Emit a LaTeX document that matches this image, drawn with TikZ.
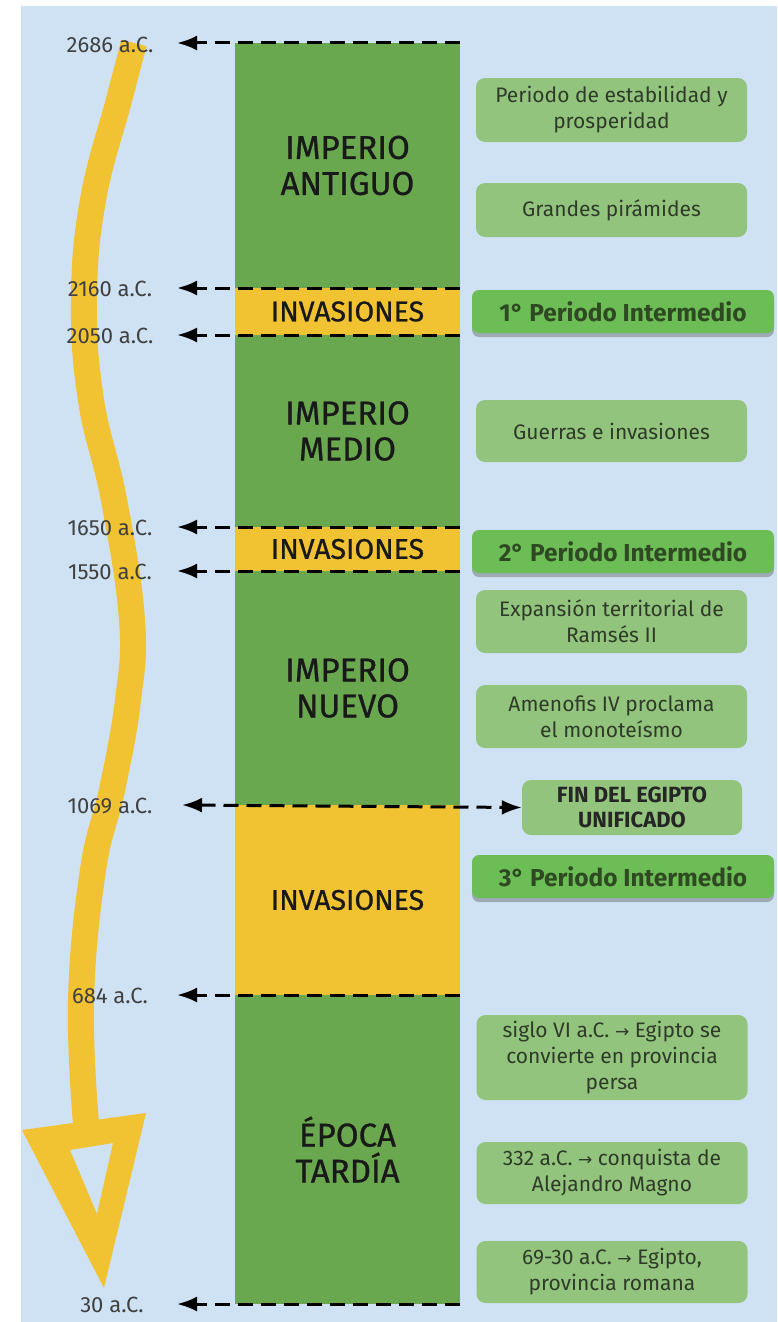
\documentclass[tikz,border=0pt]{standalone}
\usepackage{fontspec}
\setmainfont{Fira Sans}
\newfontfamily\dv{DejaVu Sans}
\newfontfamily\medf{Fira Sans}[FakeBold=0.8]
\usetikzlibrary{arrows.meta,shadows}
\definecolor{bgblue}{HTML}{CFE2F3}
\definecolor{colgreen}{HTML}{6AA84F}
\definecolor{colyellow}{HTML}{F1C232}
\definecolor{boxgreen}{HTML}{93C47D}
\definecolor{intgreen}{HTML}{6CBD55}
\definecolor{boxtext}{HTML}{2E3B28}
\definecolor{inttext}{HTML}{2F4A22}
\newcommand{\arr}{{\dv\fontsize{17pt}{17pt}\selectfont →}}
\tikzset{
  seg/.style={minimum width=225pt, inner sep=0pt, outer sep=0pt, anchor=north, text=black!90,
    align=center, font=\medf\fontsize{33pt}{36pt}\selectfont},
  invseg/.style={seg, fill=colyellow, font=\medf\fontsize{28.5pt}{30pt}\selectfont},
  empseg/.style={seg, fill=colgreen},
  datelbl/.style={text=black!75, font=\fontsize{22pt}{24pt}\selectfont, inner sep=0pt},
  dl/.style={line width=3pt, dash pattern=on 15pt off 8pt, -{Latex[length=20pt,width=15pt]}},
  dlb/.style={line width=3pt, dash pattern=on 15pt off 8pt, {Latex[length=20pt,width=15pt]}-{Latex[length=20pt,width=15pt]}},
  infobox/.style={fill=boxgreen, rounded corners=9pt, minimum width=271pt, align=center,
    text=boxtext, inner sep=0pt, font=\fontsize{21pt}{26pt}\selectfont},
  intbox/.style={fill=intgreen, rounded corners=7pt, minimum width=302pt, minimum height=43pt,
    text=inttext, inner sep=0pt, font=\bfseries\fontsize{24.5pt}{26pt}\selectfont,
    drop shadow={shadow xshift=0pt, shadow yshift=-4pt, opacity=0.45, fill=black!60}},
}
\begin{document}
\begin{tikzpicture}[x=1pt,y=-1pt]
\useasboundingbox (0,0) rectangle (777,1322);
\fill[white] (0,0) rectangle (777,1322);
\fill[bgblue] (21,6) rectangle (777,1322);

% yellow time arrow
\draw[colyellow, line width=26pt] plot[smooth, tension=0.7] coordinates
  {(134,43) (119,100) (93,200) (84,300) (91,400) (114,500) (132,620) (128,700) (112,790) (93,870) (81,1000) (86,1124)};
\fill[colyellow, even odd rule] (22,1130) -- (146,1113) -- (104,1288) -- cycle
  (70,1150) -- (113,1143) -- (97,1214) -- cycle;

% column segments
\node[empseg, minimum height=245pt] (antiguo) at (347.5,43) {IMPERIO\\ANTIGUO};
\node[invseg, minimum height=47pt] (inv1) at (347.5,288) {INVASIONES};
\node[empseg, minimum height=192pt] (medio) at (347.5,335) {IMPERIO\\MEDIO};
\node[invseg, minimum height=44pt] (inv2) at (347.5,527) {INVASIONES};
\node[empseg, minimum height=234pt] (nuevo) at (347.5,571) {IMPERIO\\NUEVO};
\node[invseg, minimum height=190pt] (inv3) at (347.5,805) {INVASIONES};
\node[empseg, minimum height=309pt] (tardia) at (347.5,995) {ÉPOCA\\TARDÍA};

% date labels
\node[datelbl] (d2686) at (110,45) {2686 a.C.};
\node[datelbl] (d2160) at (110,289) {2160 a.C.};
\node[datelbl] (d2050) at (110,336) {2050 a.C.};
\node[datelbl] (d1650) at (110,528) {1650 a.C.};
\node[datelbl] (d1550) at (110,572) {1550 a.C.};
\node[datelbl] (d1069) at (110,806) {1069 a.C.};
\node[datelbl] (d684) at (110,996) {684 a.C.};
\node[datelbl] (d30) at (112,1305) {30 a.C.};

% dashed arrows
\draw[dl] (antiguo.north east) -- ([xshift=-283pt]antiguo.north east);
\draw[dl] (inv1.north east) -- ([xshift=-283pt]inv1.north east);
\draw[dl] (inv1.south east) -- ([xshift=-283pt]inv1.south east);
\draw[dl] (inv2.north east) -- ([xshift=-283pt]inv2.north east);
\draw[dl] (inv2.south east) -- ([xshift=-283pt]inv2.south east);
\draw[dl] (inv3.south east) -- ([xshift=-283pt]inv3.south east);
\draw[dl] (tardia.south east) -- ([xshift=-283pt]tardia.south east);

% right boxes
\node[infobox, minimum height=64pt] (b1) at (611.5,110) {Periodo de estabilidad y\\prosperidad};
\node[infobox, minimum height=54pt] (b2) at (611.5,210) {Grandes pirámides};
\node[intbox] (i1) at (623,311.5) {1° Periodo Intermedio};
\node[infobox, minimum height=62pt] (b3) at (611.5,431) {Guerras e invasiones};
\node[intbox] (i2) at (623,551.5) {2° Periodo Intermedio};
\node[infobox, minimum height=63pt] (b4) at (611.5,621.5) {Expansión territorial de\\Ramsés II};
\node[infobox, minimum height=63pt] (b5) at (611.5,716.5) {Amenofis IV proclama\\el monoteísmo};
\node[infobox, minimum width=220pt, minimum height=55pt, font=\bfseries\fontsize{22pt}{25pt}\selectfont, text=black!85]
  (fin) at (632,807.5) {FIN DEL EGIPTO\\UNIFICADO};
\node[intbox] (i3) at (623,876.5) {3° Periodo Intermedio};
\node[infobox, minimum height=85pt] (b6) at (612,1057.5) {siglo VI a.C. \arr{} Egipto se\\convierte en provincia\\persa};
\node[infobox, minimum height=62pt] (b7) at (612,1173) {332 a.C. \arr{} conquista de\\Alejandro Magno};
\node[infobox, minimum height=62pt] (b8) at (612,1272) {69-30 a.C. \arr{} Egipto,\\provincia romana};

% 1069 double arrow
\coordinate (t1069) at (182,805);
\draw[dlb] (t1069) -- (fin.west);
\end{tikzpicture}
\end{document}
